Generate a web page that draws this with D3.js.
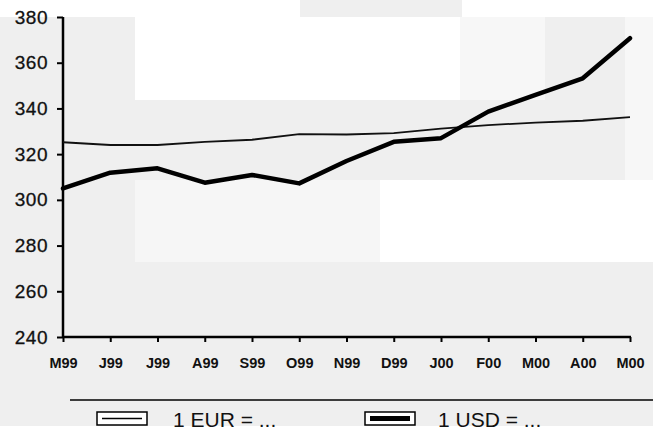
<!DOCTYPE html>
<html><head><meta charset="utf-8">
<script src="https://cdn.jsdelivr.net/npm/d3@7"></script>
<style>body{margin:0;background:#fff}svg{display:block}</style>
</head><body>
<script>
const months = ["M99","J99","J99","A99","S99","O99","N99","D99","J00","F00","M00","A00","M00"];
const eur = [325.2, 324, 324, 325.4, 326.3, 328.8, 328.6, 329.2, 331.2, 332.7, 333.8, 334.6, 336.2];
const usd = [305, 311.9, 313.8, 307.5, 310.9, 307.2, 317, 325.4, 327, 338.6, 345.9, 353.2, 370.7];
const yTicks = [240, 260, 280, 300, 320, 340, 360, 380];
const legendLabels = ["1 EUR = ...", "1 USD = ..."];

const W = 653, H = 432;
const svg = d3.select("body").append("svg").attr("width", W).attr("height", H);

// scanned-paper background patches
const patches = [
  [0,0,653,432,"#efefef"],
  [0,0,300,17,"#ffffff"],[462,0,191,17,"#ffffff"],
  [135,17,325,83,"#ffffff"],[460,17,85,83,"#f7f7f7"],[625,17,28,163,"#f7f7f7"],
  [135,180,245,82,"#f6f6f6"],[380,180,273,82,"#ffffff"],
  [0,426,653,6,"#ffffff"]
];
svg.selectAll("rect.bg").data(patches).join("rect").attr("class","bg")
  .attr("x",d=>d[0]).attr("y",d=>d[1]).attr("width",d=>d[2]).attr("height",d=>d[3]).attr("fill",d=>d[4]);

const x = d3.scalePoint().domain(d3.range(months.length)).range([63, 630]);
const y = d3.scaleLinear().domain([240, 380]).range([337, 17]);

const font = "Liberation Sans, Arial, sans-serif";

// axes
const yAxis = svg.append("g").attr("transform","translate(63,0)")
  .call(d3.axisLeft(y).tickValues(yTicks).tickSize(6).tickPadding(9));
yAxis.select(".domain").attr("stroke","#000").attr("stroke-width",2.5).attr("d","M0,17V337");
yAxis.selectAll(".tick line").attr("stroke","#000").attr("stroke-width",2);
yAxis.selectAll("text").attr("font-family",font).attr("font-size",19).attr("fill","#111")
  .attr("letter-spacing",0.5).attr("stroke","#111").attr("stroke-width",0.3);

const xAxis = svg.append("g").attr("transform","translate(0,337)")
  .call(d3.axisBottom(x).tickFormat(i=>months[i]).tickSize(5));
xAxis.select(".domain").attr("stroke","#000").attr("stroke-width",2.5).attr("d","M63,0H631");
xAxis.selectAll(".tick line").attr("stroke","#000").attr("stroke-width",2);
xAxis.selectAll("text").attr("font-family",font).attr("font-weight","bold")
  .attr("font-size",14.5).attr("fill","#111").attr("y",31).attr("dy",0);

const line = d3.line().x((d,i)=>x(i)).y(d=>y(d));
svg.append("path").datum(eur).attr("d",line).attr("fill","none").attr("stroke","#111").attr("stroke-width",1.8).attr("stroke-linejoin","round");
svg.append("path").datum(usd).attr("d",line).attr("fill","none").attr("stroke","#000").attr("stroke-width",4.5).attr("stroke-linejoin","round").attr("stroke-linecap","round");

// legend
svg.append("line").attr("x1",70).attr("x2",653).attr("y1",400).attr("y2",400).attr("stroke","#000").attr("stroke-width",1.5);
const leg = [{x:97, w:1.5, t:legendLabels[0], tx:173},{x:365, w:5, t:legendLabels[1], tx:438}];
leg.forEach(l=>{
  svg.append("rect").attr("x",l.x).attr("y",412).attr("width",50).attr("height",13).attr("fill","#fff").attr("stroke","#000").attr("stroke-width",1.5);
  svg.append("line").attr("x1",l.x+5).attr("x2",l.x+45).attr("y1",418.5).attr("y2",418.5).attr("stroke","#000").attr("stroke-width",l.w);
  svg.append("text").attr("x",l.tx).attr("y",427).text(l.t)
    .attr("font-family",font).attr("font-size",21).attr("fill","#111");
});
</script>
</body></html>
